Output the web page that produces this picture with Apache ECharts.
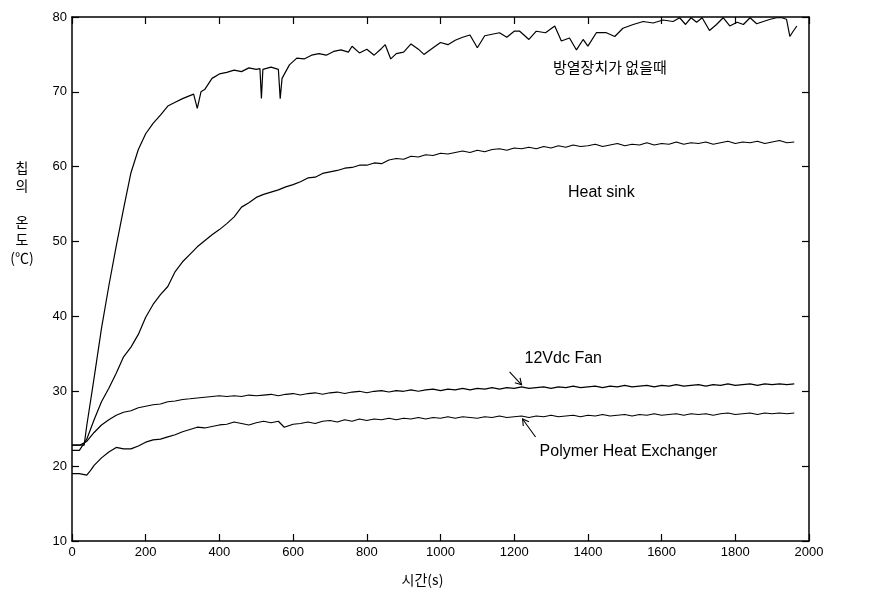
<!DOCTYPE html>
<html><head><meta charset="utf-8">
<script src="https://cdn.jsdelivr.net/npm/echarts@6/dist/echarts.min.js"></script>
<style>html,body{margin:0;padding:0;background:#fff}#c{width:880px;height:592px}</style>
</head><body><div id="c"></div>
<script>
// ---- data (time in s, temperature in °C) ----
const timeGrid = [
  0,20,40,60,80,100,120,140,160,180,
  200,220,240,260,280,300,320,340,360,380,
  400,420,440,460,480,500,520,540,560,580,
  600,620,640,660,680,700,720,740,760,780,
  800,820,840,860,880,900,920,940,960,980,
  1000,1020,1040,1060,1080,1100,1120,1140,1160,1180,
  1200,1220,1240,1260,1280,1300,1320,1340,1360,1380,
  1400,1420,1440,1460,1480,1500,1520,1540,1560,1580,
  1600,1620,1640,1660,1680,1700,1720,1740,1760,1780,
  1800,1820,1840,1860,1880,1900,1920,1940,1960];
const tempHeatSink = [
  22.1,22.1,23.6,26.2,28.6,30.4,32.4,34.6,35.9,37.6,
  39.9,41.6,42.9,44.0,46.0,47.3,48.3,49.3,50.1,50.9,
  51.6,52.4,53.3,54.6,55.2,55.9,56.3,56.6,56.9,57.3,
  57.6,58.0,58.5,58.6,59.1,59.3,59.5,59.8,59.9,60.2,
  60.2,60.5,60.4,60.9,61.1,61.0,61.4,61.3,61.6,61.5,
  61.8,61.7,61.9,62.1,61.9,62.2,62.0,62.3,62.4,62.2,
  62.5,62.4,62.6,62.4,62.7,62.5,62.8,62.6,62.9,62.7,
  62.8,63.0,62.7,62.9,63.1,62.8,63.0,62.9,63.2,62.9,
  63.1,63.0,63.3,63.0,63.2,63.1,63.3,63.0,63.2,63.4,
  63.1,63.3,63.2,63.4,63.1,63.3,63.5,63.2,63.3];
const tempFan = [
  22.8,22.8,23.3,24.5,25.5,26.2,26.8,27.2,27.4,27.8,
  28.0,28.2,28.3,28.6,28.7,28.9,29.0,29.1,29.2,29.3,
  29.4,29.3,29.4,29.3,29.5,29.4,29.5,29.6,29.4,29.6,
  29.7,29.5,29.7,29.8,29.6,29.8,29.9,29.7,29.9,30.0,
  29.8,30.0,30.1,29.9,30.1,30.0,30.2,30.0,30.2,30.3,
  30.1,30.3,30.2,30.4,30.2,30.4,30.3,30.5,30.3,30.5,
  30.4,30.6,30.4,30.5,30.6,30.4,30.6,30.5,30.7,30.5,
  30.6,30.7,30.5,30.7,30.6,30.8,30.6,30.7,30.8,30.6,
  30.8,30.7,30.9,30.7,30.8,30.9,30.7,30.9,30.8,31.0,
  30.8,30.9,31.0,30.8,31.0,30.9,31.0,30.9,31.0];
const timeNoSink = [
  0,20,33,40,60,80,100,120,140,160,
  180,200,220,240,260,280,300,320,330,340,
  350,360,380,400,420,440,460,480,500,510,
  514,518,540,560,565,570,590,610,630,650,
  670,690,710,730,750,760,780,800,820,840,
  850,865,880,900,920,940,955,980,1000,1020,
  1040,1060,1080,1100,1120,1140,1160,1180,1200,1215,
  1240,1260,1285,1310,1328,1350,1369,1387,1400,1423,
  1450,1473,1495,1523,1550,1577,1604,1631,1649,1665,
  1680,1695,1710,1730,1749,1767,1785,1805,1822,1840,
  1858,1876,1895,1912,1926,1939,1948,1957,1967];
const tempNoSink = [
  22.8,22.8,22.8,25.4,31.8,38.4,44.1,49.4,54.4,59.2,
  62.3,64.4,65.8,66.9,68.1,68.6,69.1,69.5,69.7,67.8,
  70.0,70.3,71.8,72.4,72.6,72.9,72.7,73.2,73.0,73.1,
  69.1,73.0,73.3,73.0,69.1,71.8,73.6,74.5,74.4,74.9,
  75.1,74.9,75.4,75.6,75.3,76.1,75.2,75.7,74.9,75.8,
  76.3,74.4,75.1,75.3,76.4,75.7,75.0,75.9,76.6,76.3,
  76.9,77.3,77.6,75.9,77.5,77.7,77.9,77.3,78.1,78.1,
  77.0,78.1,77.9,78.8,76.8,77.2,75.6,77.0,76.1,77.9,
  77.9,77.4,78.5,79.0,79.4,79.2,79.6,79.4,79.9,79.0,
  79.9,79.3,79.9,78.2,79.0,79.9,78.8,79.3,79.0,79.9,
  79.1,79.4,79.7,79.9,79.9,79.7,77.4,78.1,78.8];
const timePolymer = [
  0,20,30,40,50,60,80,100,120,140,
  160,180,200,220,240,260,280,300,320,340,
  360,380,400,420,440,460,480,500,520,540,
  560,576,600,620,640,660,680,700,720,740,
  760,780,800,820,840,860,880,900,920,940,
  960,980,1000,1020,1040,1060,1080,1100,1120,1140,
  1160,1180,1200,1220,1240,1260,1280,1300,1320,1340,
  1360,1380,1400,1420,1440,1460,1480,1500,1520,1540,
  1560,1580,1600,1620,1640,1660,1680,1700,1720,1740,
  1760,1780,1800,1820,1840,1860,1880,1900,1920,1940,
  1960];
const tempPolymer = [
  19.0,19.0,18.9,18.8,19.4,20.1,21.1,21.9,22.5,22.3,
  22.3,22.7,23.2,23.5,23.6,23.9,24.2,24.6,24.9,25.2,
  25.1,25.3,25.5,25.6,25.9,25.7,25.5,25.8,26.0,25.8,
  26.0,25.2,25.6,25.7,25.9,25.7,26.0,26.1,25.9,26.2,
  26.0,26.3,26.1,26.3,26.2,26.4,26.2,26.4,26.3,26.5,
  26.3,26.5,26.4,26.6,26.4,26.6,26.5,26.4,26.6,26.5,
  26.7,26.5,26.6,26.7,26.5,26.7,26.6,26.8,26.6,26.7,
  26.8,26.6,26.8,26.7,26.9,26.7,26.8,26.9,26.7,26.9,
  26.8,27.0,26.8,26.9,27.0,26.8,27.0,26.9,27.0,26.8,
  27.0,27.1,26.9,27.0,27.1,26.9,27.1,27.0,27.1,27.0,
  27.1];
const xRange = [0, 2000, 200];   // min, max, tick step
const yRange = [10, 80, 10];
const labelNoSink = '방열장치가 없을때';
const labelHeatSink = 'Heat sink';
const labelFan = '12Vdc Fan';
const labelPolymer = 'Polymer Heat Exchanger';
const xName = '시간(s)';
const yName = '칩\n의\n\n온\n도\n(℃)';
const arrowTime = 1220;

// ---- chart ----
const chart = echarts.init(document.getElementById('c'), null, {renderer: 'canvas'});
const zip = (xs, ys) => xs.map((x, i) => [x, ys[i]]);
const lineStyle = {color: '#000', width: 1.2};
const mk = (name, xs, ys) => ({name, type: 'line', data: zip(xs, ys), showSymbol: false, symbol: 'none',
  lineStyle, silent: true, animation: false, z: 3});
const tickFont = {color: '#000', fontSize: 13, fontFamily: '"Liberation Sans", Arial, sans-serif',
  formatter: v => String(v)};
const axLine = {show: true, onZero: false, lineStyle: {color: '#000', width: 1.5}};
const tick = {show: true, inside: true, length: 7, lineStyle: {color: '#000', width: 1.2}};

chart.setOption({
  backgroundColor: '#fff',
  animation: false,
  grid: {left: 72, right: 71, top: 17, bottom: 49, containLabel: false},
  xAxis: [
    {type: 'value', min: xRange[0], max: xRange[1], interval: xRange[2], position: 'bottom',
     axisLine: axLine, axisTick: tick, splitLine: {show: false},
     axisLabel: Object.assign({margin: 5}, tickFont),
     name: xName, nameLocation: 'middle', nameGap: 32,
     nameTextStyle: {color: '#000', fontSize: 14, fontFamily: '"Noto Sans CJK KR", sans-serif', padding: [0, 36, 0, 0]}},
    {type: 'value', min: xRange[0], max: xRange[1], interval: xRange[2], position: 'top',
     axisLine: axLine, axisTick: tick, splitLine: {show: false}, axisLabel: {show: false}}
  ],
  yAxis: [
    {type: 'value', min: yRange[0], max: yRange[1], interval: yRange[2], position: 'left',
     axisLine: axLine, axisTick: tick, splitLine: {show: false},
     axisLabel: Object.assign({margin: 5}, tickFont)},
    {type: 'value', min: yRange[0], max: yRange[1], interval: yRange[2], position: 'right',
     axisLine: axLine, axisTick: tick, splitLine: {show: false}, axisLabel: {show: false}}
  ],
  series: [
    mk(labelNoSink, timeNoSink, tempNoSink),
    mk(labelHeatSink, timeGrid, tempHeatSink),
    mk(labelFan, timeGrid, tempFan),
    mk(labelPolymer, timePolymer, tempPolymer)
  ]
});

// ---- annotations ----
function arrowEls(tail, tip) {
  const ang = Math.atan2(tip[1] - tail[1], tip[0] - tail[0]);
  const L = 7, a = Math.PI / 6;
  const h1 = [tip[0] - L * Math.cos(ang - a), tip[1] - L * Math.sin(ang - a)];
  const h2 = [tip[0] - L * Math.cos(ang + a), tip[1] - L * Math.sin(ang + a)];
  const st = {stroke: '#000', lineWidth: 1.1, fill: null};
  return [
    {type: 'polyline', shape: {points: [tail, tip]}, style: st, z: 10},
    {type: 'polyline', shape: {points: [h1, tip, h2]}, style: st, z: 10}
  ];
}
const idx = timeGrid.indexOf(arrowTime);
const fanTip = chart.convertToPixel({gridIndex: 0}, [arrowTime, tempFan[idx]]);
const polyIdx = timePolymer.indexOf(arrowTime);
const polyTip = chart.convertToPixel({gridIndex: 0}, [arrowTime, tempPolymer[polyIdx]]);
const fanTipA = [fanTip[0], fanTip[1] - 2];
const polyTipA = [polyTip[0] + 1, polyTip[1] + 3];
const txt = (text, x, y, font, align) => ({type: 'text', x, y, z: 10,
  style: {text, fill: '#000', font, align: align || 'left', verticalAlign: 'middle'}});
const latin = '16px "Liberation Sans", Arial, sans-serif';
const kor = '15px "Noto Sans CJK KR", sans-serif';

chart.setOption({
  graphic: [
    txt(labelNoSink, 553, 67, kor),
    txt(labelHeatSink, 568, 193, latin),
    txt(labelFan, fanTip[0] + 3, fanTip[1] - 28, latin),
    ...arrowEls([fanTipA[0] - 12, fanTipA[1] - 13], fanTipA),
    txt(labelPolymer, polyTip[0] + 18, polyTip[1] + 36, latin),
    ...arrowEls([polyTipA[0] + 13, polyTipA[1] + 18], polyTipA),
    {type: 'text', x: 22, y: 213, z: 10,
     style: {text: yName, fill: '#000', font: '14px "Noto Sans CJK KR", sans-serif',
             align: 'center', verticalAlign: 'middle', lineHeight: 18}}
  ]
});
</script>
</body></html>
